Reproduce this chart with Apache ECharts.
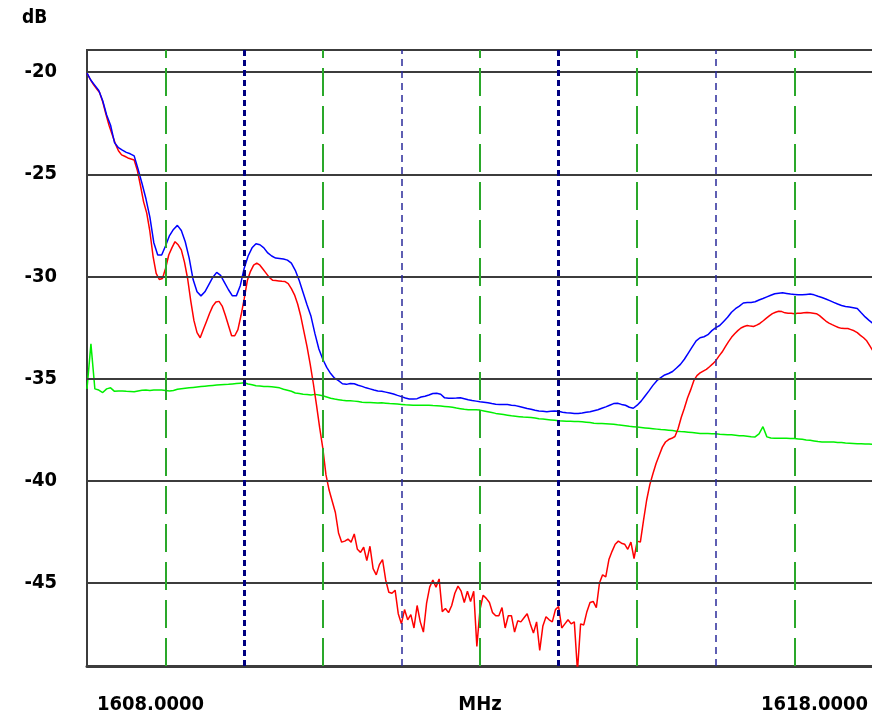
<!DOCTYPE html>
<html><head><meta charset="utf-8">
<script src="https://cdn.jsdelivr.net/npm/echarts@6/dist/echarts.min.js"></script>
<style>html,body{margin:0;padding:0;background:#fff}#c{width:872px;height:715px}</style>
</head><body><div id="c"></div>
<script>
const startMHz = 1608, stopMHz = 1618;
const traceStepMHz = 0.05;   // blue & green sweep step
const redStepMHz = 0.04;     // red sweep step
const yTicks = [-20, -25, -30, -35, -40, -45];
const xEdgeTicks = [1608, 1618];
const greenDashMHz = [1609, 1611, 1613, 1615, 1617];
const navyDotMHz = [1610, 1614];
const blueDashMHz = [1612, 1616];

const blueDb = [
-20.05,-20.4,-20.65,-20.9,-21.4,-22.1,-22.6,-23.45,-23.7,-23.82,
-23.93,-24.0,-24.1,-24.75,-25.45,-26.2,-27.1,-28.35,-28.95,-28.95,
-28.5,-28.0,-27.7,-27.5,-27.75,-28.3,-29.1,-30.15,-30.75,-30.95,
-30.75,-30.4,-30.05,-29.8,-29.95,-30.3,-30.65,-30.95,-30.95,-30.45,
-29.6,-29.0,-28.6,-28.4,-28.45,-28.6,-28.85,-29.0,-29.1,-29.12,
-29.15,-29.2,-29.35,-29.7,-30.2,-30.8,-31.4,-31.95,-32.8,-33.55,
-34.05,-34.45,-34.75,-34.98,-35.1,-35.25,-35.28,-35.24,-35.25,-35.32,
-35.38,-35.45,-35.5,-35.56,-35.6,-35.62,-35.66,-35.7,-35.75,-35.82,
-35.88,-35.95,-36.0,-36.0,-35.98,-35.9,-35.86,-35.8,-35.73,-35.72,
-35.76,-35.94,-35.96,-35.96,-35.95,-35.93,-35.98,-36.03,-36.07,-36.1,
-36.13,-36.15,-36.18,-36.22,-36.25,-36.26,-36.26,-36.27,-36.3,-36.32,
-36.36,-36.41,-36.46,-36.5,-36.55,-36.58,-36.6,-36.62,-36.6,-36.58,
-36.6,-36.64,-36.67,-36.68,-36.7,-36.7,-36.68,-36.65,-36.62,-36.57,
-36.52,-36.45,-36.38,-36.3,-36.22,-36.2,-36.26,-36.3,-36.4,-36.45,
-36.3,-36.1,-35.85,-35.6,-35.33,-35.1,-34.95,-34.82,-34.75,-34.65,
-34.48,-34.3,-34.05,-33.75,-33.45,-33.15,-33.0,-32.95,-32.85,-32.65,
-32.5,-32.4,-32.2,-32.0,-31.75,-31.58,-31.45,-31.3,-31.28,-31.27,
-31.24,-31.15,-31.08,-31.0,-30.92,-30.85,-30.82,-30.8,-30.83,-30.86,
-30.88,-30.9,-30.9,-30.88,-30.86,-30.9,-30.97,-31.03,-31.1,-31.18,
-31.27,-31.35,-31.42,-31.47,-31.5,-31.53,-31.57,-31.78,-31.98,-32.15,
-32.3];

const greenDb = [
-35.5,-33.3,-35.5,-35.56,-35.68,-35.5,-35.45,-35.62,-35.6,-35.6,
-35.62,-35.63,-35.64,-35.6,-35.57,-35.56,-35.58,-35.56,-35.55,-35.56,
-35.58,-35.6,-35.58,-35.52,-35.49,-35.47,-35.45,-35.43,-35.41,-35.39,
-35.37,-35.35,-35.33,-35.31,-35.3,-35.29,-35.28,-35.26,-35.24,-35.22,
-35.2,-35.26,-35.3,-35.35,-35.36,-35.38,-35.38,-35.4,-35.42,-35.45,
-35.52,-35.57,-35.62,-35.7,-35.73,-35.76,-35.78,-35.8,-35.77,-35.8,
-35.84,-35.9,-35.96,-36.0,-36.03,-36.06,-36.08,-36.08,-36.1,-36.12,
-36.15,-36.17,-36.17,-36.18,-36.19,-36.18,-36.2,-36.22,-36.23,-36.24,
-36.26,-36.28,-36.29,-36.3,-36.3,-36.3,-36.3,-36.3,-36.32,-36.33,
-36.34,-36.36,-36.38,-36.4,-36.44,-36.47,-36.5,-36.52,-36.52,-36.52,
-36.54,-36.58,-36.62,-36.66,-36.7,-36.73,-36.76,-36.79,-36.82,-36.84,
-36.86,-36.88,-36.89,-36.9,-36.93,-36.96,-36.98,-37.0,-37.02,-37.04,
-37.06,-37.07,-37.08,-37.09,-37.1,-37.1,-37.11,-37.13,-37.15,-37.18,
-37.2,-37.2,-37.21,-37.22,-37.23,-37.26,-37.28,-37.3,-37.33,-37.35,
-37.37,-37.39,-37.41,-37.43,-37.45,-37.47,-37.49,-37.5,-37.52,-37.54,
-37.57,-37.59,-37.6,-37.62,-37.64,-37.66,-37.68,-37.68,-37.69,-37.7,
-37.7,-37.72,-37.73,-37.74,-37.75,-37.77,-37.79,-37.8,-37.82,-37.84,
-37.85,-37.7,-37.35,-37.85,-37.9,-37.92,-37.92,-37.92,-37.92,-37.93,
-37.93,-37.95,-37.97,-38.0,-38.02,-38.05,-38.08,-38.1,-38.1,-38.1,
-38.1,-38.12,-38.13,-38.15,-38.16,-38.17,-38.18,-38.19,-38.2,-38.2,
-38.22];

const redDb = [
-20.05,-20.35,-20.6,-20.8,-21.0,-21.45,-22.05,-22.6,-23.05,-23.5,
-23.85,-24.05,-24.12,-24.2,-24.25,-24.3,-24.8,-25.55,-26.35,-26.9,
-27.8,-29.0,-29.85,-30.15,-30.1,-29.6,-28.95,-28.6,-28.3,-28.45,
-28.7,-29.3,-30.1,-31.2,-32.15,-32.75,-33.0,-32.6,-32.2,-31.8,
-31.45,-31.25,-31.22,-31.45,-31.9,-32.4,-32.9,-32.9,-32.6,-31.9,
-31.1,-30.2,-29.75,-29.45,-29.35,-29.45,-29.65,-29.85,-30.05,-30.18,
-30.2,-30.22,-30.24,-30.25,-30.35,-30.6,-30.9,-31.35,-31.95,-32.7,
-33.45,-34.3,-35.25,-36.3,-37.4,-38.4,-39.7,-40.45,-41.0,-41.55,
-42.55,-43.0,-42.95,-42.85,-43.0,-42.6,-43.35,-43.5,-43.25,-43.9,
-43.2,-44.3,-44.6,-44.1,-43.85,-44.85,-45.45,-45.5,-45.35,-46.5,
-47.0,-46.3,-46.8,-46.55,-47.2,-46.1,-46.9,-47.4,-46.0,-45.2,
-44.85,-45.2,-44.8,-46.4,-46.25,-46.45,-46.1,-45.5,-45.15,-45.4,
-45.95,-45.4,-45.9,-45.4,-48.1,-46.3,-45.6,-45.75,-45.95,-46.45,
-46.6,-46.6,-46.2,-47.2,-46.6,-46.6,-47.4,-46.85,-46.9,-46.7,
-46.5,-47.0,-47.45,-46.9,-48.3,-47.1,-46.65,-46.8,-46.9,-46.3,
-46.15,-47.2,-47.0,-46.8,-47.0,-46.9,-49.3,-47.0,-47.05,-46.4,
-45.95,-45.9,-46.2,-45.0,-44.6,-44.7,-43.85,-43.45,-43.1,-42.95,
-43.05,-43.1,-43.35,-43.0,-43.8,-42.95,-43.0,-41.95,-40.95,-40.2,
-39.65,-39.15,-38.75,-38.35,-38.1,-37.98,-37.92,-37.83,-37.45,-36.9,
-36.45,-35.95,-35.55,-35.1,-34.85,-34.72,-34.63,-34.55,-34.42,-34.28,
-34.12,-33.9,-33.7,-33.45,-33.2,-32.98,-32.8,-32.65,-32.52,-32.45,
-32.4,-32.43,-32.45,-32.38,-32.3,-32.18,-32.05,-31.93,-31.82,-31.75,
-31.7,-31.72,-31.78,-31.8,-31.8,-31.82,-31.8,-31.8,-31.78,-31.76,
-31.78,-31.8,-31.82,-31.92,-32.05,-32.18,-32.28,-32.36,-32.43,-32.5,
-32.54,-32.55,-32.55,-32.6,-32.66,-32.75,-32.88,-33.0,-33.15,-33.4,
-33.65];

const FONT = 'DejaVu Sans Condensed';
const toPairs = (arr, step) => arr.map((v, i) => [startMHz + i * step, v]);

const markData = [];
yTicks.forEach(v => markData.push({ yAxis: v, lineStyle: { color: '#3c3c3c', width: 2, type: 'solid' } }));
greenDashMHz.forEach(f => markData.push({ xAxis: f, lineStyle: { color: '#2aa82a', width: 2, type: [28, 10] } }));
blueDashMHz.forEach(f => markData.push({ xAxis: f, lineStyle: { color: '#2a2a9a', width: 1.5, type: [7, 5] } }));
navyDotMHz.forEach(f => markData.push({ xAxis: f, lineStyle: { color: '#000080', width: 3, type: [6, 4] } }));

const labelFont = { fontFamily: FONT, fontWeight: 'bold', fontSize: 20, color: '#000' };

const chart = echarts.init(document.getElementById('c'), null, { renderer: 'canvas' });
chart.setOption({
  animation: false,
  backgroundColor: '#ffffff',
  grid: { left: 87, top: 50, width: 786, height: 616, containLabel: false, outerBoundsMode: 'none',
          show: true, borderColor: '#3c3c3c', borderWidth: 2, backgroundColor: '#fff' },
  graphic: [{ type: 'text', left: 22, top: 9, style: { text: 'dB', font: 'bold 19px "' + FONT + '"', fill: '#000' } }],
  xAxis: {
    type: 'value', min: startMHz, max: stopMHz,
    name: 'MHz', nameLocation: 'middle', nameGap: 29, nameMoveOverlap: false,
    nameTextStyle: Object.assign({ verticalAlign: 'top' }, labelFont),
    axisLine: { show: true, lineStyle: { color: '#3c3c3c', width: 3 } },
    axisTick: { show: false }, splitLine: { show: false },
    axisLabel: Object.assign({
      customValues: xEdgeTicks, margin: 29, alignMinLabel: 'left', alignMaxLabel: 'right',
      formatter: v => v === startMHz ? '{l|' + v.toFixed(4) + '}' : '{r|' + v.toFixed(4) + '}',
      rich: {
        l: Object.assign({ padding: [0, 0, 0, 10] }, labelFont),
        r: Object.assign({ padding: [0, 5, 0, 0] }, labelFont)
      }
    }, labelFont)
  },
  yAxis: {
    type: 'value', min: -49.06, max: -18.92,
    axisLine: { show: true, lineStyle: { color: '#3c3c3c', width: 2 } },
    axisTick: { show: false }, splitLine: { show: false },
    axisLabel: Object.assign({ customValues: yTicks, margin: 30 }, labelFont)
  },
  series: [
    { type: 'line', data: [], silent: true, symbol: 'none',
      markLine: { silent: true, symbol: 'none', label: { show: false }, emphasis: { disabled: true }, data: markData } },
    { name: 'green', type: 'line', data: toPairs(greenDb, traceStepMHz), symbol: 'none', lineStyle: { color: '#00f000', width: 1.5 }, silent: true },
    { name: 'red', type: 'line', data: toPairs(redDb, redStepMHz), symbol: 'none', lineStyle: { color: '#ff0000', width: 1.5 }, silent: true },
    { name: 'blue', type: 'line', data: toPairs(blueDb, traceStepMHz), symbol: 'none', lineStyle: { color: '#0000ff', width: 1.5 }, silent: true }
  ]
});
</script></body></html>
